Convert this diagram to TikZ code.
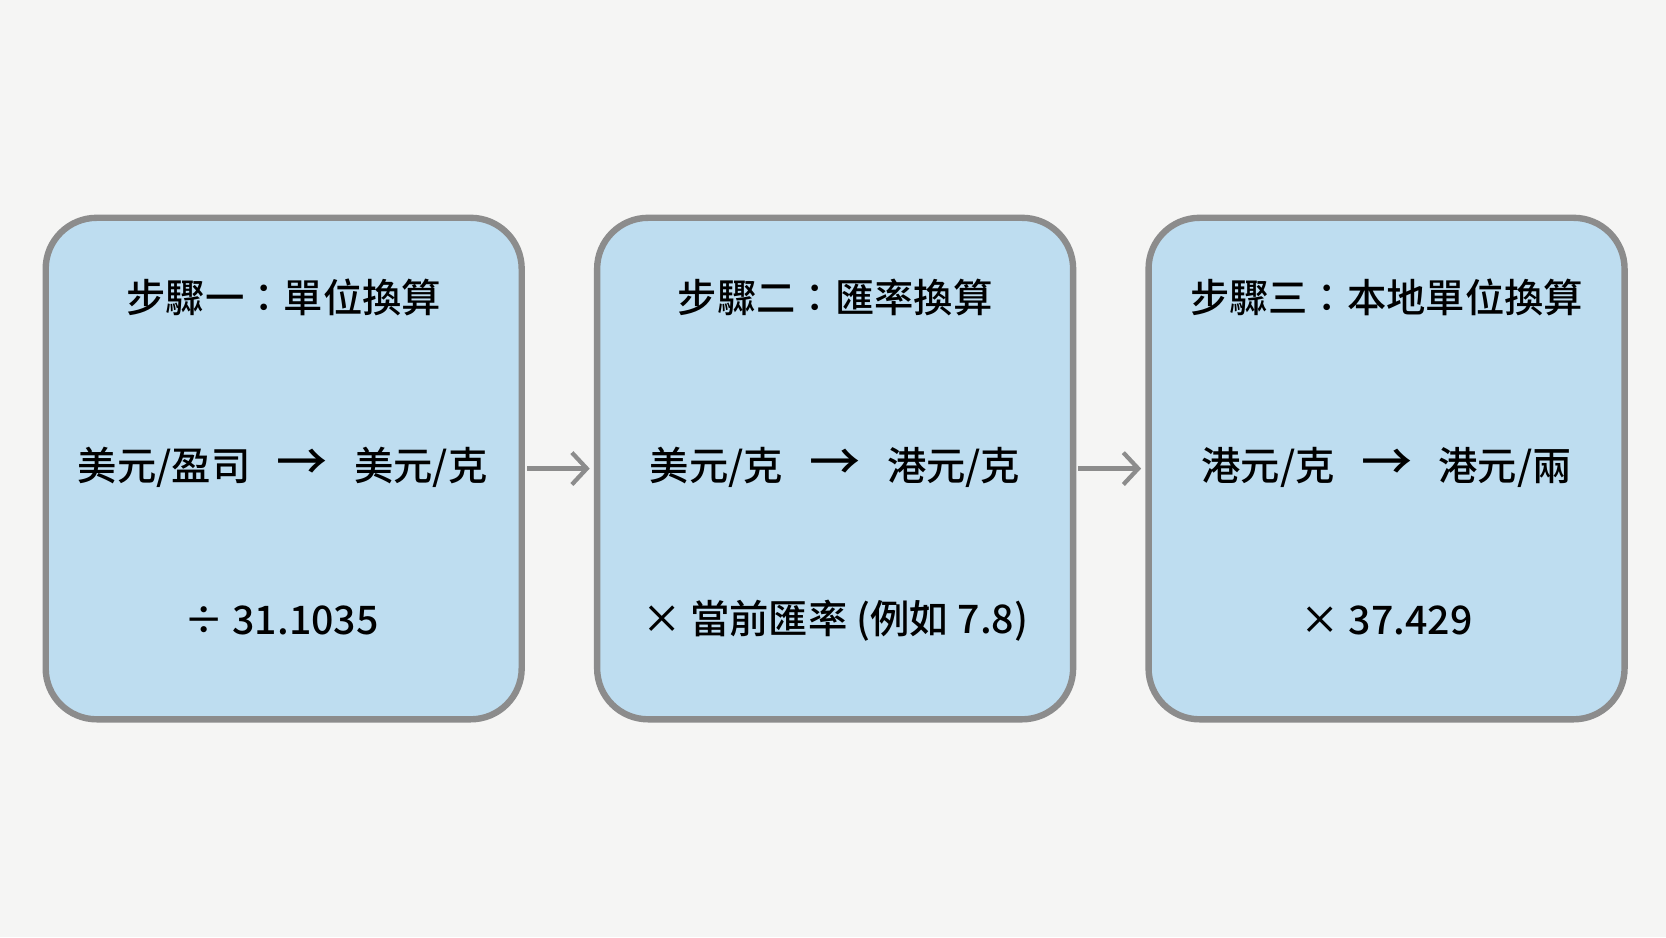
\documentclass[tikz,border=0pt]{standalone}
\usepackage{fontspec}
\newfontfamily\cjk{Noto Sans CJK TC Medium}
\newfontfamily\cjkm{Noto Sans CJK TC Medium}
\usetikzlibrary{arrows.meta}
\definecolor{bg}{HTML}{F5F5F4}
\definecolor{boxfill}{HTML}{BEDDF0}
\definecolor{boxline}{HTML}{8C8C8C}
\begin{document}
\begin{tikzpicture}[x=1pt,y=-1pt,
  stepbox/.style={draw=boxline,line width=6pt,fill=boxfill,rounded corners=48pt,minimum width=448pt,minimum height=472pt,inner sep=0pt},
  title/.style={font=\cjkm\fontsize{37}{42}\selectfont},
  body/.style={font=\cjk\fontsize{37}{42}\selectfont},
  conn/.style={draw=boxline,line width=4pt,-{Straight Barb[length=14pt,width=30pt,line width=4pt]}}]
\fill[bg] (0,0) rectangle (1568,882);
\useasboundingbox (0,0) rectangle (1568,882);
\node[stepbox] (b1) at (267,441) {};
\node[stepbox] (b2) at (786,441) {};
\node[stepbox] (b3) at (1305,441) {};
\node[title] (t1) at (267,280) {步驟一：單位換算};
\node[title] (t2) at (786,280) {步驟二：匯率換算};
\node[title] (t3) at (1305,280) {步驟三：本地單位換算};
\node[body] (m1) at (266,440) {美元/盈司 \;\,\scalebox{1.3}{→}\;\, 美元/克};
\node[body] (m2) at (786,440) {美元/克 \;\,\scalebox{1.3}{→}\;\, 港元/克};
\node[body] (m3) at (1305,440) {港元/克 \;\,\scalebox{1.3}{→}\;\, 港元/兩};
\node[body] (f1) at (265,584) {÷ 31.1035};
\node[body] (f2) at (786,584) {× 當前匯率 (例如 7.8)};
\node[body] (f3) at (1305,584) {× 37.429};
\draw[conn] (b1.east) ++(2,0) -- ([xshift=-4pt]b2.west);
\draw[conn] (b2.east) ++(2,0) -- ([xshift=-4pt]b3.west);
\end{tikzpicture}
\end{document}
